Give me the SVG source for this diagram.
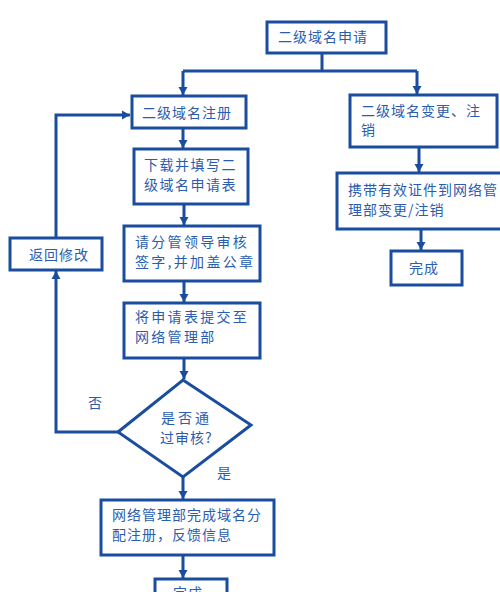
<svg xmlns="http://www.w3.org/2000/svg" width="500" height="592" viewBox="0 0 500 592">
<style>
.box{fill:#ffffff;stroke:#1a4d9e;stroke-width:3}
.t{font-family:"Noto Sans CJK SC","Liberation Sans",sans-serif;font-size:14px;fill:#2b5cae;letter-spacing:1px}
.c{fill:none;stroke:#1a4d9e;stroke-width:3}
</style>
<defs>
<marker id="ah" markerUnits="userSpaceOnUse" markerWidth="10" markerHeight="10" refX="9" refY="5" orient="auto">
<path d="M1,0.5 L9,5 L1,9.5 Z" fill="#1a4d9e"/>
</marker>
</defs>
<g id="connectors">
<path class="c" d="M322,53 V71"/>
<path class="c" d="M183,71 H417"/>
<path class="c" d="M183,71 V95" marker-end="url(#ah)"/>
<path class="c" d="M417,71 V94" marker-end="url(#ah)"/>
<path class="c" d="M183,128 V148" marker-end="url(#ah)"/>
<path class="c" d="M184,204 V225" marker-end="url(#ah)"/>
<path class="c" d="M184,281 V302" marker-end="url(#ah)"/>
<path class="c" d="M184,358 V379" marker-end="url(#ah)"/>
<path class="c" d="M183,477 V499" marker-end="url(#ah)"/>
<path class="c" d="M183,555 V578" marker-end="url(#ah)"/>
<path class="c" d="M419,147 V172" marker-end="url(#ah)"/>
<path class="c" d="M421,229 V250" marker-end="url(#ah)"/>
<path class="c" d="M118,432 H56 V271" marker-end="url(#ah)"/>
<path class="c" d="M56,238 V115 H130" marker-end="url(#ah)"/>
<text class="t" x="88" y="408">否</text>
<text class="t" x="217" y="478">是</text>
</g>
<g id="n_apply">
<rect class="box" x="267" y="22" width="119" height="31"/>
<text class="t" x="278" y="42">二级域名申请</text>
</g>
<g id="n_register">
<rect class="box" x="132" y="96" width="114" height="32"/>
<text class="t" x="142" y="118">二级域名注册</text>
</g>
<g id="n_change">
<rect class="box" x="350" y="95" width="147" height="52"/>
<text class="t" x="361" y="116">二级域名变更、注</text>
<text class="t" x="361" y="135">销</text>
</g>
<g id="n_download">
<rect class="box" x="134" y="149" width="114" height="55"/>
<text class="t" x="144" y="170" style="letter-spacing:1.5px">下载并填写二</text>
<text class="t" x="144" y="190" style="letter-spacing:1.5px">级域名申请表</text>
</g>
<g id="n_sign">
<rect class="box" x="124" y="226" width="136" height="55"/>
<text class="t" x="135" y="247" style="letter-spacing:2.3px">请分管领导审核</text>
<text class="t" x="135" y="267" style="letter-spacing:2.3px">签字,并加盖公章</text>
</g>
<g id="n_submit">
<rect class="box" x="124" y="303" width="136" height="55"/>
<text class="t" x="135" y="322" style="letter-spacing:2.3px">将申请表提交至</text>
<text class="t" x="135" y="342" style="letter-spacing:2.3px">网络管理部</text>
</g>
<g id="n_return">
<rect class="box" x="10" y="238" width="92" height="32"/>
<text class="t" x="29" y="260">返回修改</text>
</g>
<g id="n_bring">
<rect class="box" x="337" y="173" width="165" height="56"/>
<text class="t" x="348" y="195">携带有效证件到网络管</text>
<text class="t" x="348" y="215">理部变更/注销</text>
</g>
<g id="n_done_right">
<rect class="box" x="391" y="251" width="71" height="34"/>
<text class="t" x="409" y="273">完成</text>
</g>
<g id="n_decision">
<polygon class="box" points="183,380 251,425 183,477 118,432"/>
<text class="t" x="161" y="423" style="letter-spacing:3px">是否通</text>
<text class="t" x="160" y="443">过审核?</text>
</g>
<g id="n_allocate">
<rect class="box" x="101" y="500" width="173" height="55"/>
<text class="t" x="112" y="520">网络管理部完成域名分</text>
<text class="t" x="112" y="540">配注册，反馈信息</text>
</g>
<g id="n_done_bottom">
<rect class="box" x="155" y="579" width="72" height="30"/>
<text class="t" x="173" y="598">完成</text>
</g>
</svg>
